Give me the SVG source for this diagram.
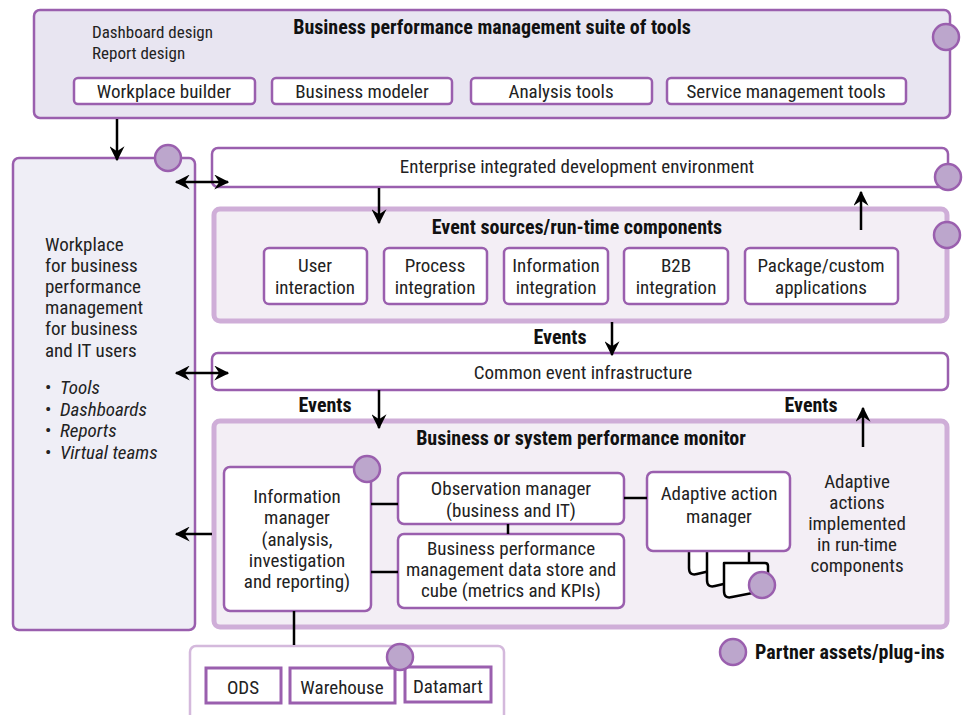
<svg xmlns="http://www.w3.org/2000/svg" width="966" height="715" viewBox="0 0 966 715">
<defs>
<style>
text{font-family:"Liberation Sans Narrow","Roboto Condensed","Liberation Sans",sans-serif;font-size:19px;fill:#222;}
.c{text-anchor:middle;}
.b{font-weight:bold;font-size:20px;fill:#111;}
.i{font-style:italic;}
.sm{font-size:17px;}
.box{fill:#fff;stroke:#9a5fae;stroke-width:2.5;}
.lt{fill:#f3eef5;stroke:#cfaed8;stroke-width:5;}
.dot{fill:#bca6cc;stroke:#9a5fae;stroke-width:2.5;}
.ln{stroke:#000;stroke-width:2.5;fill:none;}
.pg{fill:#fff;stroke:#000;stroke-width:2.5;stroke-linejoin:round;}
</style>
<marker id="ah" viewBox="0 0 12 12" refX="11" refY="6" markerWidth="15" markerHeight="15" orient="auto-start-reverse" markerUnits="userSpaceOnUse">
<path d="M0,0 L12,6 L0,12 L4,6 z" fill="#000"/>
</marker>
</defs>
<rect width="966" height="715" fill="#fff"/>

<g id="suite">
<rect x="34" y="10" width="916" height="108" rx="6" fill="#e8e5f1" stroke="#9a5fae" stroke-width="2.5"/>
<circle class="dot" cx="946" cy="37" r="13"/>
<text class="b c" x="492" y="34">Business performance management suite of tools</text>
<text class="sm" x="92" y="38">Dashboard design</text>
<text class="sm" x="92" y="59">Report design</text>
</g>
<g id="workplace-builder"><rect class="box" x="74" y="78" width="181" height="26" rx="4"/><text class="c" x="164" y="98">Workplace builder</text></g>
<g id="business-modeler"><rect class="box" x="272" y="78" width="180" height="26" rx="4"/><text class="c" x="362" y="98">Business modeler</text></g>
<g id="analysis-tools"><rect class="box" x="471" y="78" width="181" height="26" rx="4"/><text class="c" x="561" y="98">Analysis tools</text></g>
<g id="service-tools"><rect class="box" x="667" y="78" width="239" height="26" rx="4"/><text class="c" x="786" y="98">Service management tools</text></g>

<g id="workplace">
<rect x="13" y="158" width="182" height="472" rx="6" fill="#efeef6" stroke="#9a5fae" stroke-width="2.5"/>
<circle class="dot" cx="168" cy="158" r="13"/>
<text x="45" y="251">Workplace</text>
<text x="45" y="272">for business</text>
<text x="45" y="293">performance</text>
<text x="45" y="314">management</text>
<text x="45" y="335">for business</text>
<text x="45" y="357">and IT users</text>
<text x="45" y="394">•</text><text class="i" x="60" y="394">Tools</text>
<text x="45" y="416">•</text><text class="i" x="60" y="416">Dashboards</text>
<text x="45" y="437">•</text><text class="i" x="60" y="437">Reports</text>
<text x="45" y="459">•</text><text class="i" x="60" y="459">Virtual teams</text>
</g>

<g id="ide">
<rect class="box" x="212" y="148" width="736" height="39" rx="6"/>
<circle class="dot" cx="948" cy="177" r="13"/>
<text class="c" x="577" y="173">Enterprise integrated development environment</text>
</g>

<g id="event-sources">
<rect class="lt" x="214" y="209" width="733" height="112" rx="6"/>
<circle class="dot" cx="947" cy="235" r="13"/>
<text class="b c" x="577" y="234">Event sources/run-time components</text>
</g>
<g id="user-interaction"><rect class="box" x="264" y="248" width="103" height="56" rx="5"/><text class="c" x="315" y="272">User</text><text class="c" x="315" y="294">interaction</text></g>
<g id="process-integration"><rect class="box" x="384" y="248" width="103" height="56" rx="5"/><text class="c" x="435" y="272">Process</text><text class="c" x="435" y="294">integration</text></g>
<g id="information-integration"><rect class="box" x="504" y="248" width="104" height="56" rx="5"/><text class="c" x="556" y="272">Information</text><text class="c" x="556" y="294">integration</text></g>
<g id="b2b-integration"><rect class="box" x="624" y="248" width="104" height="56" rx="5"/><text class="c" x="676" y="272">B2B</text><text class="c" x="676" y="294">integration</text></g>
<g id="package-apps"><rect class="box" x="745" y="248" width="153" height="56" rx="5"/><text class="c" x="821" y="272">Package/custom</text><text class="c" x="821" y="294">applications</text></g>

<g id="common-event">
<rect class="box" x="212" y="353" width="736" height="37" rx="6"/>
<text class="c" x="583" y="379">Common event infrastructure</text>
</g>

<g id="monitor">
<rect class="lt" x="214" y="421" width="733" height="206" rx="6"/>
<text class="b c" x="581" y="445">Business or system performance monitor</text>
<text class="c" x="857" y="488">Adaptive</text>
<text class="c" x="857" y="509">actions</text>
<text class="c" x="857" y="530">implemented</text>
<text class="c" x="857" y="551">in run-time</text>
<text class="c" x="857" y="572">components</text>
</g>

<g id="information-manager">
<rect class="box" x="224" y="467" width="147" height="144" rx="6"/>
<circle class="dot" cx="367" cy="469" r="13"/>
<text class="c" x="297" y="503">Information</text>
<text class="c" x="297" y="524">manager</text>
<text class="c" x="297" y="546">(analysis,</text>
<text class="c" x="297" y="567">investigation</text>
<text class="c" x="297" y="588">and reporting)</text>
</g>
<g id="observation-manager">
<rect class="box" x="398" y="473" width="226" height="51" rx="6"/>
<text class="c" x="511" y="495">Observation manager</text>
<text class="c" x="511" y="517">(business and IT)</text>
</g>
<g id="bpm-data-store">
<rect class="box" x="398" y="534" width="226" height="74" rx="6"/>
<text class="c" x="511" y="555">Business performance</text>
<text class="c" x="511" y="576">management data store and</text>
<text class="c" x="511" y="597">cube (metrics and KPIs)</text>
</g>
<g id="adaptive-action-manager">
<path class="pg" d="M689,545 V568 Q689,576 697,574 L731,566 V545 Z"/>
<path class="pg" d="M707,550 V580 Q707,588 715,586 L749,578 V550 Z"/>
<path class="pg" d="M724,563 V591 Q724,599 732,597 L768,590 V566 Q768,563 765,563 Z"/>
<circle class="dot" cx="762" cy="585" r="13"/>
<rect class="box" x="647" y="472" width="143" height="79" rx="6"/>
<text class="c" x="719" y="500">Adaptive action</text>
<text class="c" x="719" y="523">manager</text>
</g>

<g id="data-stores">
<rect x="190" y="646" width="314" height="80" rx="6" fill="#fff" stroke="#d4b9dc" stroke-width="2.5"/>
</g>
<g id="ods"><rect x="206" y="668" width="75" height="35" fill="#fff" stroke="#9a5fae" stroke-width="3"/><text class="c" x="243" y="694">ODS</text></g>
<g id="warehouse"><rect x="290" y="668" width="105" height="35" fill="#fff" stroke="#9a5fae" stroke-width="3"/><text class="c" x="342" y="694">Warehouse</text></g>
<g id="datamart"><rect x="405" y="667" width="86" height="35" fill="#fff" stroke="#9a5fae" stroke-width="3"/><text class="c" x="448" y="693">Datamart</text></g>
<circle class="dot" cx="400" cy="657" r="13"/>

<g id="legend">
<circle class="dot" cx="733" cy="652" r="13"/>
<text class="b" x="755" y="659">Partner assets/plug-ins</text>
</g>

<g id="connectors">
<line class="ln" x1="117" y1="119" x2="117" y2="160" marker-end="url(#ah)"/>
<line class="ln" x1="176" y1="182" x2="228" y2="182" marker-start="url(#ah)" marker-end="url(#ah)"/>
<line class="ln" x1="379" y1="188" x2="379" y2="223" marker-end="url(#ah)"/>
<line class="ln" x1="861" y1="230" x2="861" y2="192" marker-end="url(#ah)"/>
<line class="ln" x1="612" y1="322" x2="612" y2="355" marker-end="url(#ah)"/>
<text class="b c" x="560" y="344">Events</text>
<line class="ln" x1="176" y1="373" x2="228" y2="373" marker-start="url(#ah)" marker-end="url(#ah)"/>
<line class="ln" x1="379" y1="390" x2="379" y2="428" marker-end="url(#ah)"/>
<text class="b c" x="325" y="412">Events</text>
<line class="ln" x1="863" y1="447" x2="863" y2="408" marker-end="url(#ah)"/>
<text class="b c" x="811" y="412">Events</text>
<line class="ln" x1="212" y1="534" x2="176" y2="534" marker-end="url(#ah)"/>
<line class="ln" x1="371" y1="504" x2="398" y2="504"/>
<line class="ln" x1="371" y1="572" x2="398" y2="572"/>
<line class="ln" x1="508" y1="524" x2="508" y2="534"/>
<line class="ln" x1="624" y1="498" x2="647" y2="498"/>
<line class="ln" x1="294" y1="611" x2="294" y2="645"/>
</g>
</svg>
